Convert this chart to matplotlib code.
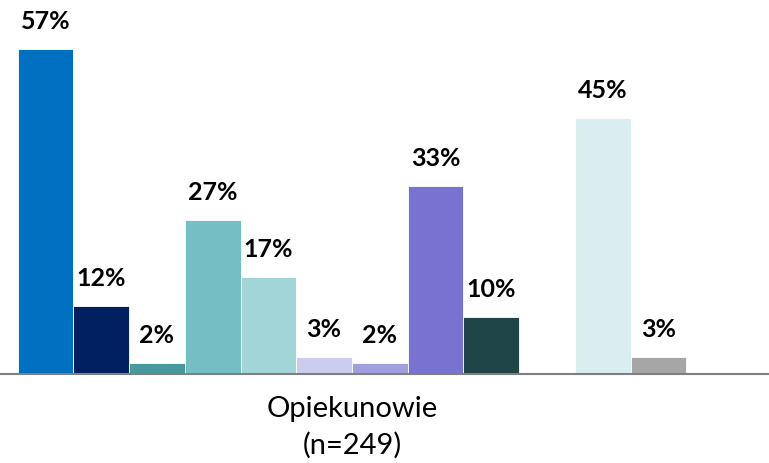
import numpy as np
import matplotlib
matplotlib.use("Agg")
import matplotlib.pyplot as plt

category = "Opiekunowie\n(n=249)"
values = [57, 12, 2, 27, 17, 3, 2, 33, 10, np.nan, 45, 3]
colors = ["#0070C0", "#002060", "#46999E", "#75BFC4", "#A2D5D8", "#CCCCEE",
          "#A09EDE", "#7873D0", "#1F4549", "#FFFFFF", "#DAEEF0", "#A6A6A6"]

plt.rcParams['font.family'] = ['Lato', 'DejaVu Sans']

fig = plt.figure(figsize=(7.69, 4.64), dpi=100)
ax = fig.add_axes([0, 89/464, 1, 375/464])

n = len(values)
offsets = np.arange(n) - (n - 1) / 2
for off, v, c in zip(offsets, values, colors):
    if np.isnan(v):
        continue
    ax.bar(off, v, width=1.0, color=c, edgecolor="white", linewidth=0.6)
    ax.annotate(f"{v:.0f}%", (off, v), xytext=(0, 12), textcoords="offset points",
                ha="center", va="bottom", fontsize=18, fontweight="bold", color="black")

ax.set_xlim(-6.314, 7.48)
ax.set_ylim(0, 65.8)
ax.set_xticks([0])
ax.set_xticklabels([category], fontsize=21, linespacing=1.45)
ax.tick_params(axis="x", length=0, pad=15)
ax.set_yticks([])
for s in ["top", "left", "right"]:
    ax.spines[s].set_visible(False)
ax.spines["bottom"].set_color("#7F7F7F")
ax.spines["bottom"].set_linewidth(1.5)

fig.savefig("out.png", dpi=100)
